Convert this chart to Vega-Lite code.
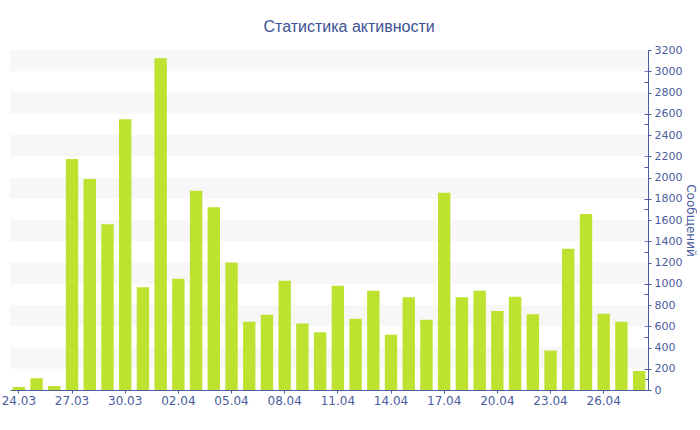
{
  "$schema": "https://vega.github.io/schema/vega-lite/v6.json",
  "width": 638,
  "height": 340,
  "padding": {"left": 1, "top": 19, "right": 0, "bottom": 0},
  "background": "white",
  "title": {
    "text": "Статистика активности",
    "font": "Liberation Sans",
    "fontSize": 16,
    "fontWeight": "normal",
    "color": "#3d5295",
    "anchor": "middle",
    "frame": "bounds",
    "offset": 9
  },
  "datasets": {
    "bars": [
      {"date": "24.03", "count": 29},
      {"date": "25.03", "count": 111},
      {"date": "26.03", "count": 38},
      {"date": "27.03", "count": 2174},
      {"date": "28.03", "count": 1986},
      {"date": "29.03", "count": 1560},
      {"date": "30.03", "count": 2549},
      {"date": "31.03", "count": 968},
      {"date": "01.04", "count": 3122},
      {"date": "02.04", "count": 1047},
      {"date": "03.04", "count": 1876},
      {"date": "04.04", "count": 1720},
      {"date": "05.04", "count": 1200},
      {"date": "06.04", "count": 643},
      {"date": "07.04", "count": 709},
      {"date": "08.04", "count": 1028},
      {"date": "09.04", "count": 627},
      {"date": "10.04", "count": 543},
      {"date": "11.04", "count": 981},
      {"date": "12.04", "count": 671},
      {"date": "13.04", "count": 934},
      {"date": "14.04", "count": 521},
      {"date": "15.04", "count": 874},
      {"date": "16.04", "count": 662},
      {"date": "17.04", "count": 1857},
      {"date": "18.04", "count": 874},
      {"date": "19.04", "count": 934},
      {"date": "20.04", "count": 743},
      {"date": "21.04", "count": 878},
      {"date": "22.04", "count": 712},
      {"date": "23.04", "count": 371},
      {"date": "24.04", "count": 1329},
      {"date": "25.04", "count": 1657},
      {"date": "26.04", "count": 718},
      {"date": "27.04", "count": 643},
      {"date": "28.04", "count": 179}
    ],
    "stripes": [
      {"lo": 200, "hi": 400},
      {"lo": 600, "hi": 800},
      {"lo": 1000, "hi": 1200},
      {"lo": 1400, "hi": 1600},
      {"lo": 1800, "hi": 2000},
      {"lo": 2200, "hi": 2400},
      {"lo": 2600, "hi": 2800},
      {"lo": 3000, "hi": 3200}
    ]
  },
  "resolve": {"axis": {"y": "independent"}},
  "layer": [
    {
      "data": {"name": "stripes"},
      "mark": {"type": "rect", "color": "#f7f7f7"},
      "encoding": {
        "y": {
          "field": "lo",
          "type": "quantitative",
          "scale": {"domain": [0, 3200], "nice": false},
          "axis": {
            "orient": "right",
            "title": null,
            "values": [0,100,200,300,400,500,600,700,800,900,1000,1100,1200,1300,1400,1500,1600,1700,1800,1900,2000,2100,2200,2300,2400,2500,2600,2700,2800,2900,3000,3100,3200],
            "labels": false,
            "domain": false,
            "tickColor": "#4a5c9e",
            "tickSize": -4,
            "grid": false
          }
        },
        "y2": {"field": "hi"}
      }
    },
    {
      "data": {"name": "bars"},
      "mark": {"type": "bar", "color": "#bde22f"},
      "encoding": {
        "x": {
          "field": "date",
          "type": "ordinal",
          "sort": null,
          "scale": {"paddingInner": 0.3, "paddingOuter": 0.15},
          "axis": {
            "title": null,
            "values": ["24.03", "27.03", "30.03", "02.04", "05.04", "08.04", "11.04", "14.04", "17.04", "20.04", "23.04", "26.04"],
            "labelAngle": 0,
            "labelFont": "DejaVu Sans",
            "labelFontSize": 12,
            "labelColor": "#4a5c9e",
            "domainColor": "#4a5c9e",
            "tickColor": "#4a5c9e",
            "tickSize": 3,
            "labelPadding": 2
          }
        },
        "y": {
          "field": "count",
          "type": "quantitative",
          "axis": {
            "orient": "right",
            "title": "Сообщений",
            "titleFont": "DejaVu Sans",
            "titleFontSize": 12,
            "titleFontWeight": "normal",
            "titleColor": "#4a5c9e",
            "titleAngle": 90,
            "titlePadding": 2,
            "values": [0,200,400,600,800,1000,1200,1400,1600,1800,2000,2200,2400,2600,2800,3000,3200],
            "format": "d",
            "labelOverlap": false,
            "labelFont": "DejaVu Sans",
            "labelFontSize": 11,
            "labelColor": "#4a5c9e",
            "labelPadding": 3,
            "domainColor": "#4a5c9e",
            "tickColor": "#4a5c9e",
            "tickSize": 3,
            "grid": false
          }
        }
      }
    }
  ],
  "config": {
    "view": {"stroke": null},
    "axis": {"grid": false}
  }
}
